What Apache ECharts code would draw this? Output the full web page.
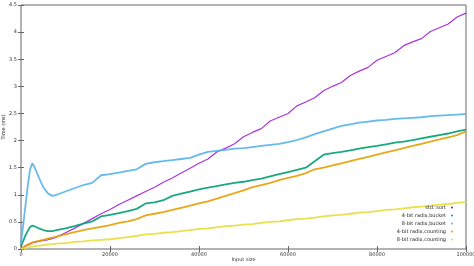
<!DOCTYPE html>
<html>
<head>
<meta charset="utf-8">
<script src="https://cdn.jsdelivr.net/npm/echarts@6/dist/echarts.min.js"></script>
<style>
  html, body { margin: 0; padding: 0; background: #fff; }
  #main { width: 474px; height: 266px; }
</style>
</head>
<body>
<div id="main"></div>
<script>
// input sizes (x values)
var sizes = [0, 500, 1000, 1500, 2000, 2500, 3000, 3500, 4000,
    5000, 6000, 7000, 8000,
    10000, 12000, 14000, 16000, 18000, 20000, 22000, 24000, 26000, 28000,
    30000, 32000, 34000, 36000, 38000, 40000, 42000, 44000, 46000, 48000,
    50000, 52000, 54000, 56000, 58000, 60000, 62000, 64000, 66000, 68000,
    70000, 72000, 74000, 76000, 78000, 80000, 82000, 84000, 86000, 88000,
    90000, 92000, 94000, 96000, 98000, 100000];

var names = ['std::sort', '4-bit radix,bucket', '8-bit radix,bucket', '4-bit radix,counting', '8-bit radix,counting'];

// times in ms
var stdSort = [0.01, 0.03, 0.05, 0.07, 0.09, 0.11, 0.12, 0.13, 0.14,
    0.16, 0.17, 0.19, 0.22,
    0.30, 0.38, 0.47, 0.56, 0.65, 0.73, 0.82, 0.90, 0.98, 1.06,
    1.14, 1.23, 1.31, 1.40, 1.49, 1.58, 1.66, 1.79, 1.86, 1.94,
    2.07, 2.15, 2.22, 2.36, 2.43, 2.50, 2.64, 2.71, 2.79, 2.92,
    3.00, 3.07, 3.20, 3.28, 3.35, 3.48, 3.55, 3.62, 3.75, 3.82,
    3.88, 4.01, 4.08, 4.15, 4.28, 4.35];

var bucket4 = [0.05, 0.15, 0.25, 0.33, 0.40, 0.43, 0.42, 0.40, 0.38,
    0.35, 0.33, 0.33, 0.35,
    0.38, 0.42, 0.47, 0.51, 0.60, 0.63, 0.66, 0.70, 0.74, 0.84,
    0.86, 0.90, 0.98, 1.02, 1.06, 1.10, 1.13, 1.16, 1.19, 1.22,
    1.24, 1.27, 1.30, 1.34, 1.38, 1.42, 1.46, 1.50, 1.62, 1.74,
    1.77, 1.79, 1.82, 1.85, 1.88, 1.90, 1.93, 1.96, 1.98, 2.01,
    2.04, 2.07, 2.10, 2.13, 2.17, 2.20];

var bucket8 = [0.10, 0.45, 0.80, 1.15, 1.45, 1.58, 1.52, 1.42, 1.32,
    1.14, 1.03, 0.98, 1.00,
    1.06, 1.12, 1.18, 1.22, 1.36, 1.38, 1.41, 1.44, 1.47, 1.57,
    1.60, 1.62, 1.64, 1.66, 1.68, 1.74, 1.79, 1.81, 1.83, 1.85,
    1.86, 1.88, 1.90, 1.92, 1.94, 1.97, 2.01, 2.06, 2.12, 2.17,
    2.22, 2.27, 2.30, 2.33, 2.35, 2.37, 2.38, 2.40, 2.41, 2.42,
    2.43, 2.45, 2.46, 2.47, 2.48, 2.49];

var counting4 = [0.01, 0.03, 0.06, 0.08, 0.10, 0.12, 0.13, 0.14, 0.15,
    0.17, 0.19, 0.21, 0.23,
    0.27, 0.31, 0.35, 0.38, 0.41, 0.44, 0.48, 0.51, 0.55, 0.62,
    0.65, 0.68, 0.72, 0.76, 0.80, 0.84, 0.88, 0.93, 0.98, 1.03,
    1.08, 1.14, 1.18, 1.22, 1.27, 1.31, 1.35, 1.40, 1.47, 1.50,
    1.54, 1.58, 1.62, 1.66, 1.70, 1.74, 1.78, 1.82, 1.86, 1.90,
    1.94, 1.98, 2.02, 2.06, 2.10, 2.17];

var counting8 = [0.00, 0.01, 0.02, 0.03, 0.04, 0.05, 0.05, 0.06, 0.06,
    0.07, 0.08, 0.09, 0.10,
    0.11, 0.13, 0.14, 0.16, 0.17, 0.18, 0.20, 0.22, 0.24, 0.27,
    0.28, 0.30, 0.31, 0.33, 0.35, 0.37, 0.38, 0.40, 0.42, 0.43,
    0.45, 0.46, 0.48, 0.50, 0.51, 0.53, 0.55, 0.56, 0.58, 0.60,
    0.62, 0.63, 0.65, 0.67, 0.68, 0.70, 0.72, 0.73, 0.75, 0.77,
    0.78, 0.80, 0.82, 0.83, 0.85, 0.87];

var colors = ['#9400d3', '#009e73', '#56b4e9', '#e69f00', '#e8dc3a'];

function pairs(ys) {
    var out = [];
    for (var i = 0; i < sizes.length; i++) out.push([sizes[i], ys[i]]);
    return out;
}

var allSeries = [stdSort, bucket4, bucket8, counting4, counting8];
var series = [];
for (var i = 0; i < allSeries.length; i++) {
    series.push({
        name: names[i],
        type: 'line',
        data: pairs(allSeries[i]),
        showSymbol: false,
        symbol: 'circle',
        animation: false,
        lineStyle: { width: i === 0 ? 1.2 : 1.8, color: colors[i], opacity: i === 0 ? 0.8 : 0.9 },
        itemStyle: { color: colors[i] }
    });
}

var tickFont = { fontFamily: 'DejaVu Sans', fontSize: 5, color: '#333' };

var myChart = echarts.init(document.getElementById('main'));
var option = {
    backgroundColor: '#fff',
    animation: false,
    color: colors,
    grid: {
        left: 21, right: 8, top: 5, bottom: 17,
        containLabel: false,
        outerBoundsMode: 'none',
        show: true, borderColor: '#666', borderWidth: 1
    },
    legend: {
        orient: 'vertical',
        right: 16,
        bottom: 19,
        align: 'right',
        icon: 'circle',
        itemWidth: 2,
        itemHeight: 2,
        itemGap: 3,
        textStyle: { fontFamily: 'DejaVu Sans', fontSize: 5, color: '#222', width: 60, align: 'right' },
        data: names
    },
    xAxis: [
        {
            type: 'value',
            min: 0,
            max: 100000,
            interval: 20000,
            name: 'Input size',
            nameLocation: 'middle',
            nameGap: 8,
            nameMoveOverlap: false,
            nameTextStyle: tickFont,
            axisLine: { show: false },
            axisTick: { inside: true, length: 3, lineStyle: { color: '#666' } },
            axisLabel: {
                margin: 3, fontFamily: 'DejaVu Sans', fontSize: 5, color: '#333',
                formatter: function (v) { return String(v); }
            },
            splitLine: { show: false }
        },
        {
            type: 'value',
            position: 'top',
            min: 0,
            max: 100000,
            interval: 20000,
            axisLine: { show: false },
            axisTick: { inside: true, length: 3, lineStyle: { color: '#666' } },
            axisLabel: { show: false },
            splitLine: { show: false }
        }
    ],
    yAxis: [
        {
            type: 'value',
            min: 0,
            max: 4.5,
            interval: 0.5,
            name: 'Time (ms)',
            nameLocation: 'middle',
            nameGap: 15,
            nameMoveOverlap: false,
            nameTextStyle: { fontFamily: 'DejaVu Sans', fontSize: 5, color: '#222' },
            axisLine: { show: false },
            axisTick: { inside: true, length: 3, lineStyle: { color: '#666' } },
            axisLabel: { margin: 4, fontFamily: 'DejaVu Sans', fontSize: 5, color: '#333' },
            splitLine: { show: false }
        },
        {
            type: 'value',
            position: 'right',
            min: 0,
            max: 4.5,
            interval: 0.5,
            axisLine: { show: false },
            axisTick: { inside: true, length: 3, lineStyle: { color: '#666' } },
            axisLabel: { show: false },
            splitLine: { show: false }
        }
    ],
    series: series
};
myChart.setOption(option);
</script>
</body>
</html>
